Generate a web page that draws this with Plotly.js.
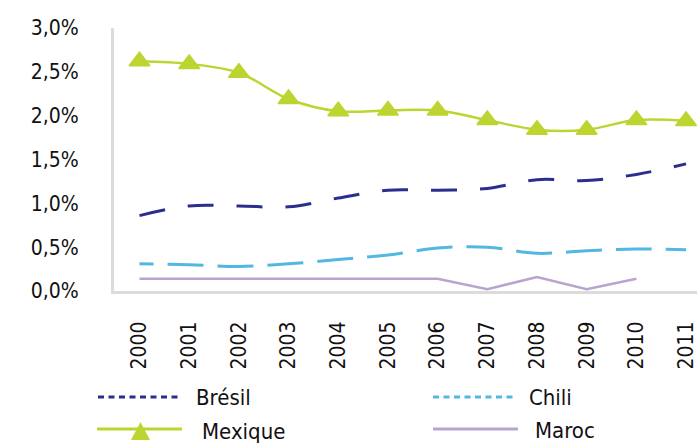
<!DOCTYPE html>
<html><head><meta charset="utf-8">
<script src="https://cdn.plot.ly/plotly-3.0.1.min.js"></script>
<style>html,body{margin:0;padding:0;background:#fff;overflow:hidden}</style>
</head><body>
<div id="chart" style="width:697px;height:444px"></div>
<script>
const years = ['2000','2001','2002','2003','2004','2005','2006','2007','2008','2009','2010','2011'];
const seriesNames = ['Brésil','Chili','Mexique','Maroc'];
const bresil  = [0.86, 0.97, 0.97, 0.96, 1.06, 1.15, 1.15, 1.17, 1.27, 1.26, 1.33, 1.45];
const chili   = [0.31, 0.30, 0.28, 0.31, 0.36, 0.41, 0.49, 0.50, 0.43, 0.46, 0.48, 0.47];
const mexique = [2.62, 2.59, 2.49, 2.19, 2.05, 2.06, 2.06, 1.95, 1.84, 1.84, 1.95, 1.94];
const maroc   = [0.14, 0.14, 0.14, 0.14, 0.14, 0.14, 0.14, 0.02, 0.16, 0.02, 0.14, null];
const yTicks  = [0, 0.5, 1, 1.5, 2, 2.5, 3];
const yTickText = ['0,0%','0,5%','1,0%','1,5%','2,0%','2,5%','3,0%'];

const C_BRESIL = '#2b2e8e', C_CHILI = '#52b8e2', C_MEX = '#bdd431', C_MAROC = '#b8a5cf';
const FONT = 'DejaVu Sans Condensed, DejaVu Sans, sans-serif';

// Chili dash pattern begins partway through a dash
let chiliDash = ['14px','14px'];
for (let i = 0; i < 16; i++) chiliDash.push('36px','14px');

const traces = [
  {x: years, y: bresil, name: seriesNames[0], type: 'scatter', mode: 'lines',
   line: {color: C_BRESIL, width: 3, dash: '26px,23px', shape: 'spline', smoothing: 1}},
  {x: years, y: chili, name: seriesNames[1], type: 'scatter', mode: 'lines',
   line: {color: C_CHILI, width: 3, dash: chiliDash.join(','), shape: 'spline', smoothing: 1}},
  {x: years, y: mexique, name: seriesNames[2], type: 'scatter', mode: 'lines+markers',
   line: {color: C_MEX, width: 2.5, shape: 'spline', smoothing: 1},
   marker: {symbol: 'triangle-up', size: 18, color: C_MEX, line: {color: C_MEX, width: 1.5}},
   cliponaxis: false},
  {x: years, y: maroc, name: seriesNames[3], type: 'scatter', mode: 'lines',
   line: {color: C_MAROC, width: 2.5}}
];

// layout geometry
const W = 697, H = 444, ML = 114, MT = 28, MR = 0, MB = 153;
const PW = W - ML - MR, PH = H - MT - MB;
const px = v => (v - ML) / PW;
const py = v => (MT + PH - v) / PH;

// custom legend (sample lines longer than Plotly's built-in)
const legendItems = [
  {name: seriesNames[0], color: C_BRESIL, dash: '6px,4.5px', x0: 98, x1: 180, y: 397, tx: 194, ty: 397},
  {name: seriesNames[1], color: C_CHILI,  dash: '6px,4.5px', x0: 433, x1: 515, y: 397, tx: 527, ty: 397},
  {name: seriesNames[2], color: C_MEX,    dash: 'solid',     x0: 97, x1: 182, y: 429, tx: 200, ty: 431, tri: true},
  {name: seriesNames[3], color: C_MAROC,  dash: 'solid',     x0: 433, x1: 518, y: 429, tx: 533, ty: 430}
];
const shapes = [], annotations = [];
legendItems.forEach(it => {
  shapes.push({type: 'line', xref: 'paper', yref: 'paper',
    x0: px(it.x0), x1: px(it.x1), y0: py(it.y), y1: py(it.y),
    line: {color: it.color, width: 3, dash: it.dash}});
  if (it.tri) {
    const cx = (it.x0 + it.x1) / 2 + 1;
    shapes.push({type: 'path', xref: 'paper', yref: 'paper',
      path: `M${px(cx-9.5)},${py(440)} L${px(cx+9.5)},${py(440)} L${px(cx)},${py(422)} Z`,
      fillcolor: it.color, line: {width: 0}});
  }
  annotations.push({xref: 'paper', yref: 'paper', x: px(it.tx), y: py(it.ty),
    xanchor: 'left', yanchor: 'middle', showarrow: false, text: it.name,
    font: {family: FONT, size: 22, color: '#111'}});
});

const layout = {
  width: W, height: H,
  margin: {l: ML, r: MR, t: MT, b: MB, pad: 0},
  paper_bgcolor: '#fff', plot_bgcolor: '#fff',
  showlegend: false,
  font: {family: FONT, color: '#111'},
  xaxis: {type: 'category', range: [-0.513, 11.22], showgrid: false, zeroline: false,
    showline: true, linecolor: '#dcdcdc', linewidth: 3, ticks: '',
    tickangle: -90, ticklabelstandoff: 19, tickfont: {family: FONT, size: 21, color: '#111'}},
  yaxis: {range: [0, 3], tickmode: 'array', tickvals: yTicks, ticktext: yTickText,
    showgrid: false, zeroline: false, showline: true, linecolor: '#dcdcdc', linewidth: 3,
    ticks: '', ticklabelstandoff: 28, tickfont: {family: FONT, size: 21, color: '#111'}},
  shapes: shapes,
  annotations: annotations
};

Plotly.newPlot('chart', traces, layout, {displayModeBar: false, staticPlot: true});
</script>
</body></html>
